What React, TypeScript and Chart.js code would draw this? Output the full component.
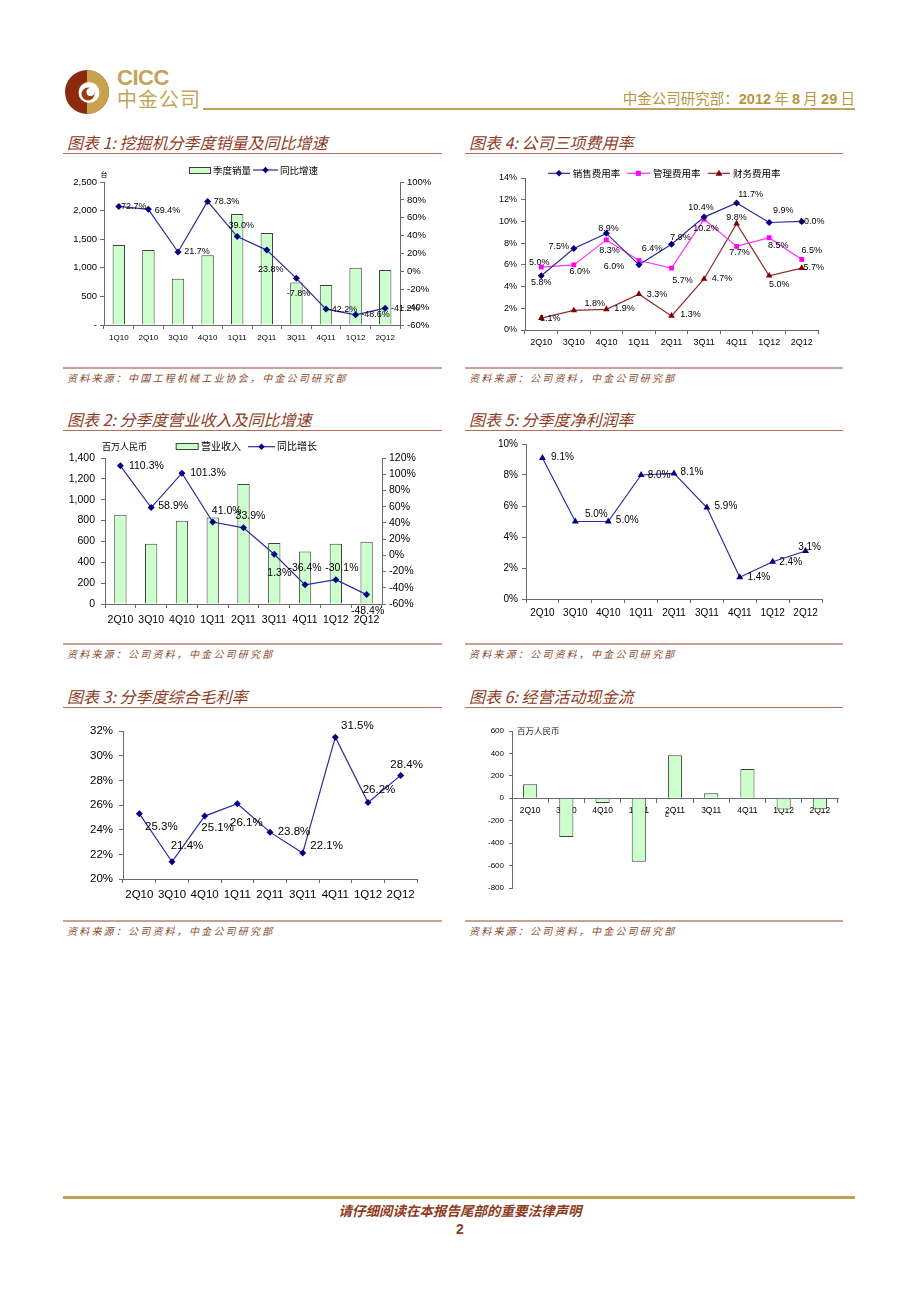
import React, { useEffect, useRef } from 'react';
import { Chart, registerables } from 'chart.js';
Chart.register(...registerables);

const LAT = "'Liberation Sans', Arial, sans-serif";
const CJK = "'Noto Sans CJK SC', 'Noto Sans', sans-serif";

// ---------------- data ----------------
const c1Quarters = ['1Q10', '2Q10', '3Q10', '4Q10', '1Q11', '2Q11', '3Q11', '4Q11', '1Q12', '2Q12'];
const c1Sales = [1400, 1310, 810, 1220, 1940, 1610, 745, 700, 1000, 960];
const c1Growth = [72.7, 69.4, 21.7, 78.3, 39.0, 23.8, -7.8, -42.2, -48.6, -41.2];
const c1LeftTicks = [0, 500, 1000, 1500, 2000, 2500];
const c1RightTicks = [-60, -40, -20, 0, 20, 40, 60, 80, 100];

const quarters = ['2Q10', '3Q10', '4Q10', '1Q11', '2Q11', '3Q11', '4Q11', '1Q12', '2Q12'];

const c2Revenue = [855, 577, 798, 830, 1150, 586, 503, 577, 596];
const c2Growth = [110.3, 58.9, 101.3, 41.0, 33.9, 1.3, -36.4, -30.1, -48.4];
const c2LeftTicks = [0, 200, 400, 600, 800, 1000, 1200, 1400];
const c2RightTicks = [-60, -40, -20, 0, 20, 40, 60, 80, 100, 120];

const c3GrossMargin = [25.3, 21.4, 25.1, 26.1, 23.8, 22.1, 31.5, 26.2, 28.4];
const c3Ticks = [20, 22, 24, 26, 28, 30, 32];

const c4Selling = [5.0, 7.5, 8.9, 6.0, 7.9, 10.4, 11.7, 9.9, 10.0];
const c4Admin = [5.8, 6.0, 8.3, 6.4, 5.7, 10.2, 7.7, 8.5, 6.5];
const c4Finance = [1.1, 1.8, 1.9, 3.3, 1.3, 4.7, 9.8, 5.0, 5.7];
const c4Ticks = [0, 2, 4, 6, 8, 10, 12, 14];

const c5NetMargin = [9.1, 5.0, 5.0, 8.0, 8.1, 5.9, 1.4, 2.4, 3.1];
const c5Ticks = [0, 2, 4, 6, 8, 10];

const c6CashFlow = [125, -345, -42, -567, 383, 45, 261, -100, -97];
const c6Ticks = [-800, -600, -400, -200, 0, 200, 400, 600];

// ---------------- label placement (styling) ----------------
const c1LabelOff = [[15, 0], [19, 1], [19, 0], [19, 0], [4, -11], [4, 19], [2, 15], [17, 0], [20, 0], [20, 0]];
const c2LabelOff = [[26, 0], [22, -1], [26, 0], [14, -11], [7, -12], [5, 19], [0, -17], [6, -12], [1, 17]];
const c3LabelOff = [[22, 13], [15, -16], [13, 12], [9, 19], [24, 0], [24, -7], [22, -11], [11, -13], [6, -11]];
const c4SellOff = [[-2, -13], [-15, -2], [2, -5], [-25, 2], [9, -7], [-3, -10], [14, -8], [14, -12], [10, 0]];
const c4AdminOff = [[0, 15], [6, 7], [3, 11], [13, -12], [11, 12], [2, 9], [3, 6], [9, 8], [10, -9]];
const c4FinOff = [[9, 0], [21, -7], [18, -1], [18, 0], [19, -1], [18, 0], [0, -6], [10, 9], [12, -1]];
const c5LabelOff = [[20, -1], [21, -7], [19, -1], [18, 0], [18, -1], [19, -1], [19, 0], [18, 0], [4, -4]];

const AXIS = '#6a6a6a';
const NAVY = '#000080';
const LINEBLUE = '#2b2b9e';
const GREEN = '#CCFFCC';
const BAR_EDGE = '#404040';
const BROWN = '#8E3B1E';
const GOLD = '#BFA15A';

type MarkerKind = 'diamond' | 'square' | 'triangle';

function drawMarker(ctx: CanvasRenderingContext2D, kind: MarkerKind, x: number, y: number, r: number, color: string) {
  ctx.beginPath();
  if (kind === 'diamond') {
    ctx.moveTo(x, y - r); ctx.lineTo(x + r, y); ctx.lineTo(x, y + r); ctx.lineTo(x - r, y);
  } else if (kind === 'square') {
    ctx.rect(x - r * 0.75, y - r * 0.75, r * 1.5, r * 1.5);
  } else {
    ctx.moveTo(x, y - r); ctx.lineTo(x + r * 0.95, y + r * 0.65); ctx.lineTo(x - r * 0.95, y + r * 0.65);
  }
  ctx.closePath();
  ctx.fillStyle = color;
  ctx.fill();
}

type LabelSpec = { ds: number; offsets: number[][]; size: number; fmt: (v: number) => string };
type Item =
  | { kind: 'text'; x: number; y: number; text: string; size: number; family?: string; color?: string; align?: CanvasTextAlign }
  | { kind: 'box'; x: number; y: number; w: number; h: number }
  | { kind: 'line'; x1: number; x2: number; y: number; color: string; marker: MarkerKind; mcolor: string; r: number };

function overlay(labels: LabelSpec[], items: Item[]) {
  return {
    id: 'overlay',
    afterDatasetsDraw(chart: any) {
      const ctx: CanvasRenderingContext2D = chart.ctx;
      labels.forEach((ls) => {
        const meta = chart.getDatasetMeta(ls.ds);
        const vals = chart.data.datasets[ls.ds].data as number[];
        ctx.save();
        ctx.font = `${ls.size}px ${LAT}`;
        ctx.fillStyle = '#000';
        ctx.textAlign = 'center';
        ctx.textBaseline = 'middle';
        meta.data.forEach((el: any, i: number) => {
          const o = ls.offsets[i] || [0, 0];
          ctx.fillText(ls.fmt(vals[i]), el.x + o[0], el.y + o[1]);
        });
        ctx.restore();
      });
    },
    afterDraw(chart: any) {
      const ctx: CanvasRenderingContext2D = chart.ctx;
      items.forEach((it) => {
        ctx.save();
        if (it.kind === 'text') {
          ctx.font = `${it.size}px ${it.family || CJK}`;
          ctx.fillStyle = it.color || '#000';
          ctx.textAlign = it.align || 'left';
          ctx.textBaseline = 'middle';
          ctx.fillText(it.text, it.x, it.y);
        } else if (it.kind === 'box') {
          ctx.fillStyle = GREEN;
          ctx.fillRect(it.x, it.y, it.w, it.h);
          ctx.strokeStyle = BAR_EDGE;
          ctx.lineWidth = 1;
          ctx.strokeRect(it.x + 0.5, it.y + 0.5, it.w, it.h);
        } else {
          ctx.strokeStyle = it.color;
          ctx.lineWidth = 1.2;
          ctx.beginPath();
          ctx.moveTo(it.x1, it.y);
          ctx.lineTo(it.x2, it.y);
          ctx.stroke();
          drawMarker(ctx, it.marker, (it.x1 + it.x2) / 2, it.y, it.r, it.mcolor);
        }
        ctx.restore();
      });
    },
  };
}

function catAxis(size: number, pad: number, height: number, extra: any = {}) {
  return {
    type: 'category',
    offset: true,
    grid: { display: true, drawOnChartArea: false, drawTicks: true, tickLength: 4, color: AXIS, offset: true },
    border: { display: true, color: AXIS, width: 1 },
    ticks: { color: '#000', font: { family: LAT, size }, padding: pad, autoSkip: false, maxRotation: 0, minRotation: 0 },
    afterFit: (s: any) => { s.height = height; },
    ...extra,
  };
}

function valAxis(pos: 'left' | 'right', t: number[], size: number, pad: number, width: number, fmt: (v: number) => string, tl = 4) {
  return {
    type: 'linear',
    position: pos,
    min: t[0],
    max: t[t.length - 1],
    grid: { display: true, drawOnChartArea: false, drawTicks: true, tickLength: tl, color: AXIS },
    border: { display: true, color: AXIS, width: 1 },
    ticks: { stepSize: t[1] - t[0], color: '#000', font: { family: LAT, size }, padding: pad, callback: (v: any) => fmt(Number(v)) },
    afterFit: (s: any) => { s.width = width; },
  };
}

const pct0 = (v: number) => `${v}%`;
const pct1 = (v: number) => `${v.toFixed(1)}%`;
const baseOpts = (padding: any) => ({
  animation: false,
  responsive: false,
  devicePixelRatio: 1,
  layout: { padding },
  plugins: { legend: { display: false }, tooltip: { enabled: false } },
});

const lineDs = (data: number[], color: string, mcolor: string, style: string, r: number, extra: any = {}) => ({
  type: 'line',
  data,
  borderColor: color,
  borderWidth: 1.2,
  pointStyle: style,
  pointRadius: r,
  pointBackgroundColor: mcolor,
  pointBorderColor: mcolor,
  pointBorderWidth: 0,
  tension: 0,
  fill: false,
  ...extra,
});

const barDs = (data: number[], pct: number, extra: any = {}) => ({
  type: 'bar',
  data,
  backgroundColor: GREEN,
  borderColor: BAR_EDGE,
  borderWidth: 1,
  barPercentage: pct,
  categoryPercentage: 1,
  ...extra,
});

// ---------------- chart configs ----------------
const chart1 = () => ({
  type: 'bar',
  data: {
    labels: c1Quarters,
    datasets: [
      lineDs(c1Growth, LINEBLUE, NAVY, 'rectRot', 3.5, { yAxisID: 'y1', order: 0 }),
      barDs(c1Sales, 0.42, { yAxisID: 'y', order: 1 }),
    ],
  },
  options: {
    ...baseOpts({ top: 22 }),
    scales: {
      x: catAxis(8, 4.2, 25),
      y: valAxis('left', c1LeftTicks, 9.5, 3, 44, (v) => (v === 0 ? '-' : v.toLocaleString('en-US'))),
      y1: valAxis('right', c1RightTicks, 9.5, 3, 45, pct0),
    },
  },
  plugins: [
    overlay(
      [{ ds: 0, offsets: c1LabelOff, size: 9, fmt: pct1 }],
      [
        { kind: 'text', x: 44, y: 14.5, text: '台', size: 7, align: 'center' },
        { kind: 'box', x: 129, y: 7, w: 21, h: 6 },
        { kind: 'text', x: 153, y: 10, text: '季度销量', size: 9.5 },
        { kind: 'line', x1: 193, x2: 218, y: 10, color: LINEBLUE, marker: 'diamond', mcolor: NAVY, r: 3.2 },
        { kind: 'text', x: 220, y: 10, text: '同比增速', size: 9.5 },
      ]
    ),
  ],
});

const chart2 = () => ({
  type: 'bar',
  data: {
    labels: quarters,
    datasets: [
      lineDs(c2Growth, LINEBLUE, NAVY, 'rectRot', 3.5, { yAxisID: 'y1', order: 0 }),
      barDs(c2Revenue, 0.4, { yAxisID: 'y', order: 1 }),
    ],
  },
  options: {
    ...baseOpts({ top: 23 }),
    scales: {
      x: catAxis(10.5, 5.7, 26),
      y: valAxis('left', c2LeftTicks, 10.5, 6, 45, (v) => v.toLocaleString('en-US')),
      y1: valAxis('right', c2RightTicks, 10.5, 3, 63, pct0),
    },
  },
  plugins: [
    overlay(
      [{ ds: 0, offsets: c2LabelOff, size: 10.5, fmt: pct1 }],
      [
        { kind: 'text', x: 42, y: 11.7, text: '百万人民币', size: 9 },
        { kind: 'box', x: 115.7, y: 8, w: 22, h: 6 },
        { kind: 'text', x: 141, y: 11.7, text: '营业收入', size: 10 },
        { kind: 'line', x1: 188, x2: 215, y: 11.7, color: LINEBLUE, marker: 'diamond', mcolor: NAVY, r: 3.2 },
        { kind: 'text', x: 217, y: 11.7, text: '同比增长', size: 10 },
      ]
    ),
  ],
});

const chart3 = () => ({
  type: 'line',
  data: {
    labels: quarters,
    datasets: [lineDs(c3GrossMargin, LINEBLUE, NAVY, 'rectRot', 3.5)],
  },
  options: {
    ...baseOpts({ top: 16, right: 28 }),
    scales: {
      x: catAxis(11.5, 5.1, 26),
      y: valAxis('left', c3Ticks, 11.5, 6, 63, pct0),
    },
  },
  plugins: [overlay([{ ds: 0, offsets: c3LabelOff, size: 11.5, fmt: pct1 }], [])],
});

const chart4 = () => ({
  type: 'line',
  data: {
    labels: quarters,
    datasets: [
      lineDs(c4Selling, LINEBLUE, NAVY, 'rectRot', 3.5),
      lineDs(c4Admin, '#FF33FF', '#FF00FF', 'rect', 3.4),
      lineDs(c4Finance, '#8B2D2D', '#800000', 'triangle', 3.8),
    ],
  },
  options: {
    ...baseOpts({ top: 18, right: 27 }),
    scales: {
      x: catAxis(9, 3.6, 20),
      y: valAxis('left', c4Ticks, 9, 4, 63, pct0),
    },
  },
  plugins: [
    overlay(
      [
        { ds: 0, offsets: c4SellOff, size: 9, fmt: pct1 },
        { ds: 1, offsets: c4AdminOff, size: 9, fmt: pct1 },
        { ds: 2, offsets: c4FinOff, size: 9, fmt: pct1 },
      ],
      [
        { kind: 'line', x1: 86, x2: 108, y: 13.3, color: LINEBLUE, marker: 'diamond', mcolor: NAVY, r: 3.2 },
        { kind: 'text', x: 110.7, y: 13.3, text: '销售费用率', size: 9.5 },
        { kind: 'line', x1: 164.7, x2: 188, y: 13.3, color: '#FF33FF', marker: 'square', mcolor: '#FF00FF', r: 3.4 },
        { kind: 'text', x: 191, y: 13.3, text: '管理费用率', size: 9.5 },
        { kind: 'line', x1: 246, x2: 268, y: 13.3, color: '#8B2D2D', marker: 'triangle', mcolor: '#800000', r: 3.6 },
        { kind: 'text', x: 271, y: 13.3, text: '财务费用率', size: 9.5 },
      ]
    ),
  ],
});

const chart5 = () => ({
  type: 'line',
  data: {
    labels: quarters,
    datasets: [lineDs(c5NetMargin, LINEBLUE, NAVY, 'triangle', 4)],
  },
  options: {
    ...baseOpts({ top: 14, right: 23 }),
    scales: {
      x: catAxis(10, 4.3, 31),
      y: valAxis('left', c5Ticks, 10, 4, 64, pct0),
    },
  },
  plugins: [overlay([{ ds: 0, offsets: c5LabelOff, size: 10, fmt: pct1 }], [])],
});

const chart6 = () => ({
  type: 'bar',
  data: {
    labels: quarters,
    datasets: [barDs(c6CashFlow, 0.39)],
  },
  options: {
    ...baseOpts({ top: 16, right: 12, bottom: 17 }),
    scales: {
      x: catAxis(8.5, 3.2, 0, { position: { y: 0 }, z: 1 }),
      y: valAxis('left', c6Ticks, 8, 5, 50, (v) => `${v}`, 3),
    },
  },
  plugins: [
    overlay([], [
      { kind: 'text', x: 55, y: 16, text: '百万人民币', size: 8.5, color: '#222' },
      { kind: 'text', x: 203, y: 100, text: 'c', size: 8, family: LAT },
    ]),
  ],
});

// ---------------- components ----------------
function ChartCanvas({ x, y, w, h, make }: { x: number; y: number; w: number; h: number; make: () => any }) {
  const ref = useRef<HTMLCanvasElement>(null);
  useEffect(() => {
    const c = new Chart(ref.current as HTMLCanvasElement, make());
    return () => c.destroy();
  }, []);
  return <canvas ref={ref} width={w} height={h} style={{ position: 'absolute', left: x, top: y, width: w, height: h }} />;
}

type TxtProps = {
  x: number; y: number; size: number; children: React.ReactNode; color?: string; weight?: number;
  italic?: boolean; family?: string; align?: 'left' | 'right' | 'center'; spacing?: number;
};
function Txt({ x, y, size, children, color = '#000', weight = 400, italic = false, family = CJK, align = 'left', spacing = 0 }: TxtProps) {
  const style: any = {
    position: 'absolute', top: y - size, height: size * 2, lineHeight: `${size * 2}px`, fontSize: size, color,
    fontWeight: weight, fontStyle: italic ? 'italic' : 'normal', fontFamily: family, whiteSpace: 'nowrap', letterSpacing: spacing,
  };
  if (align === 'left') style.left = x;
  else if (align === 'right') style.right = 920 - x;
  else { style.left = x; style.transform = 'translateX(-50%)'; }
  return <div style={style}>{children}</div>;
}

function HLine({ x1, x2, y, h, color }: { x1: number; x2: number; y: number; h: number; color: string }) {
  return <div style={{ position: 'absolute', left: x1, top: y, width: x2 - x1, height: h, background: color }} />;
}

function Section({ lx, title, source, titleY, srcY }: { lx: number; title: string; source: string; titleY: number; srcY: number }) {
  const x1 = lx === 0 ? 63 : 465;
  const x2 = lx === 0 ? 442 : 843;
  return (
    <>
      <Txt x={x1 + 4} y={titleY} size={16} italic color={BROWN}>{title}</Txt>
      <HLine x1={x1} x2={x2} y={titleY + 11} h={1} color="#B4704F" />
      <HLine x1={x1} x2={x2} y={srcY - 11} h={2} color="#C9A294" />
      <Txt x={x1 + 4} y={srcY} size={10} italic color="#8B4A2B" spacing={2.2}>{source}</Txt>
    </>
  );
}

export default function App() {
  const gold = '#C4A458';
  return (
    <div style={{ position: 'absolute', left: 0, top: 0, width: 920, height: 1302, background: '#fff', overflow: 'hidden' }}>
      {/* header */}
      <svg width="50" height="50" viewBox="0 0 50 50" style={{ position: 'absolute', left: 63, top: 67 }}>
        <circle cx="24" cy="25" r="22" fill="#8B2A0C" />
        <path d="M24 3 A22 22 0 0 1 24 47 Z" fill="#C9A24E" />
        <circle cx="26" cy="25.5" r="10.5" fill="#fff" />
        <circle cx="25" cy="27" r="6.5" fill="#9A3A14" />
        <circle cx="27.5" cy="25" r="4" fill="#fff" />
      </svg>
      <Txt x={117} y={78} size={22} weight={700} family={LAT} color={gold} spacing={-0.5}>CICC</Txt>
      <Txt x={117} y={99} size={20} color={gold} spacing={1}>中金公司</Txt>
      <HLine x1={203} x2={855} y={108} h={2} color={GOLD} />
      <Txt x={855} y={97} size={14.5} align="right" color="#B8953F">
        中金公司研究部：<b style={{ fontFamily: LAT }}>2012</b> 年 <b style={{ fontFamily: LAT }}>8</b> 月 <b style={{ fontFamily: LAT }}>29</b> 日
      </Txt>

      {/* sections */}
      <Section lx={0} title="图表 1: 挖掘机分季度销量及同比增速" source="资料来源：中国工程机械工业协会，中金公司研究部" titleY={142} srcY={378} />
      <Section lx={1} title="图表 4: 公司三项费用率" source="资料来源：公司资料，中金公司研究部" titleY={142} srcY={378} />
      <Section lx={0} title="图表 2: 分季度营业收入及同比增速" source="资料来源：公司资料，中金公司研究部" titleY={419} srcY={654} />
      <Section lx={1} title="图表 5: 分季度净利润率" source="资料来源：公司资料，中金公司研究部" titleY={419} srcY={654} />
      <Section lx={0} title="图表 3: 分季度综合毛利率" source="资料来源：公司资料，中金公司研究部" titleY={696} srcY={931} />
      <Section lx={1} title="图表 6: 经营活动现金流" source="资料来源：公司资料，中金公司研究部" titleY={696} srcY={931} />

      <ChartCanvas x={60} y={160} w={385} h={190} make={chart1} />
      <ChartCanvas x={462} y={160} w={383} h={190} make={chart4} />
      <ChartCanvas x={60} y={435} w={385} h={195} make={chart2} />
      <ChartCanvas x={462} y={430} w={383} h={200} make={chart5} />
      <ChartCanvas x={60} y={715} w={385} h={190} make={chart3} />
      <ChartCanvas x={462} y={715} w={388} h={190} make={chart6} />

      {/* footer */}
      <HLine x1={63} x2={855} y={1196} h={3} color={GOLD} />
      <Txt x={460} y={1210} size={13.5} italic weight={700} align="center" color={BROWN}>请仔细阅读在本报告尾部的重要法律声明</Txt>
      <Txt x={460} y={1229} size={14} weight={700} family={LAT} align="center" color={BROWN}>2</Txt>
    </div>
  );
}
